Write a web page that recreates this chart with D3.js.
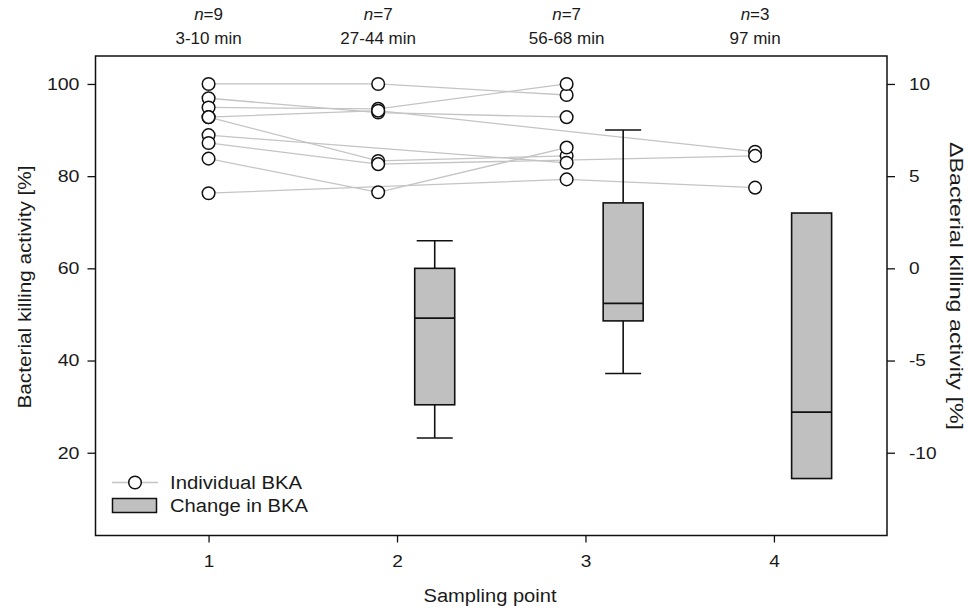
<!DOCTYPE html>
<html>
<head>
<meta charset="utf-8">
<script src="https://cdn.jsdelivr.net/npm/d3@7"></script>
<style>
  html, body { margin: 0; padding: 0; background: #fff; }
  svg { display: block; font-family: "Liberation Sans", Arial, sans-serif; }
</style>
</head>
<body>
<svg id="chart" width="968" height="611"></svg>
<script>
// ---------- data ----------
const samplingPoints = [1, 2, 3, 4];
const nLabels = ["9", "7", "7", "3"];
const timeLabels = ["3-10 min", "27-44 min", "56-68 min", "97 min"];
// Individual BKA per subject at sampling points 1..4 (null = missing)
const subject1 = [100.0, 100.0, 97.6, null];
const subject2 = [96.9, 93.8, 92.8, null];
const subject3 = [94.9, 94.6, 100.0, null];
const subject4 = [92.8, 94.2, null, 85.3];
const subject5 = [92.8, 83.3, 84.4, null];
const subject6 = [88.9, null, 82.9, null];
const subject7 = [87.2, 82.6, null, 84.4];
const subject8 = [83.8, 76.5, 86.2, null];
const subject9 = [76.3, null, 79.3, 77.5];
const subjects = [subject1, subject2, subject3, subject4, subject5, subject6, subject7, subject8, subject9];
// Change in BKA box plots (right axis), at sampling points 2..4
const boxPoints = [2, 3, 4];
const boxMin    = [-9.2, -5.7, null];
const boxQ1     = [-7.4, -2.85, -11.4];
const boxMedian = [-2.7, -1.9, -7.8];
const boxQ3     = [0.0, 3.55, 3.0];
const boxMax    = [1.5, 7.5, null];
const leftTicks = [20, 40, 60, 80, 100];
const rightTicks = [-10, -5, 0, 5, 10];

// ---------- layout ----------
const svg = d3.select("#chart");
const L = 95.5, R = 887, T = 56, B = 535.5;
const textColor = "#1a1a1a";
const FONT = '"Liberation Sans", Arial, sans-serif';

const x = d3.scaleLinear().domain([0.4, 4.6]).range([L, R]);
const yL = d3.scaleLinear().domain([2, 106]).range([535.7, 56.3]);
const yR = d3.scaleLinear().domain([-14.5, 11.5]).range([535.7, 56.3]);
const pointOffset = -0.1, boxOffset = 0.2;
const boxW = 40, capW = 36;

// widen glyphs horizontally (the reference text is rendered wide)
function stretch(sel, factor) {
  sel.each(function () {
    const n = this.getComputedTextLength();
    d3.select(this).attr("textLength", n * factor).attr("lengthAdjust", "spacingAndGlyphs");
  });
}

// subject lines
const line = d3.line()
  .defined(d => d.v !== null)
  .x(d => x(d.p))
  .y(d => yL(d.v));
subjects.forEach(s => {
  const pts = s.map((v, i) => ({p: samplingPoints[i] + (i === 0 ? 0 : pointOffset), v}))
               .filter(d => d.v !== null);
  svg.append("path").attr("d", line(pts))
    .attr("fill", "none").attr("stroke", "#c4c4c4").attr("stroke-width", 1.3);
});

// boxes
boxPoints.forEach((p, i) => {
  const cx = x(p + boxOffset);
  const g = svg.append("g");
  if (boxMax[i] !== null) {
    g.append("line").attr("x1", cx).attr("x2", cx).attr("y1", yR(boxQ3[i])).attr("y2", yR(boxMax[i]))
      .attr("stroke", "#111").attr("stroke-width", 1.6);
    g.append("line").attr("x1", cx - capW / 2).attr("x2", cx + capW / 2).attr("y1", yR(boxMax[i])).attr("y2", yR(boxMax[i]))
      .attr("stroke", "#111").attr("stroke-width", 1.6);
  }
  if (boxMin[i] !== null) {
    g.append("line").attr("x1", cx).attr("x2", cx).attr("y1", yR(boxQ1[i])).attr("y2", yR(boxMin[i]))
      .attr("stroke", "#111").attr("stroke-width", 1.6);
    g.append("line").attr("x1", cx - capW / 2).attr("x2", cx + capW / 2).attr("y1", yR(boxMin[i])).attr("y2", yR(boxMin[i]))
      .attr("stroke", "#111").attr("stroke-width", 1.6);
  }
  g.append("rect").attr("x", cx - boxW / 2).attr("width", boxW)
    .attr("y", yR(boxQ3[i])).attr("height", yR(boxQ1[i]) - yR(boxQ3[i]))
    .attr("fill", "#c0c0c0").attr("stroke", "#111").attr("stroke-width", 1.6);
  g.append("line").attr("x1", cx - boxW / 2).attr("x2", cx + boxW / 2)
    .attr("y1", yR(boxMedian[i])).attr("y2", yR(boxMedian[i]))
    .attr("stroke", "#111").attr("stroke-width", 1.6);
});

// points
subjects.forEach(s => {
  s.forEach((v, i) => {
    if (v === null) return;
    svg.append("circle")
      .attr("cx", x(samplingPoints[i] + (i === 0 ? 0 : pointOffset)))
      .attr("cy", yL(v)).attr("r", 6.3)
      .attr("fill", "#fff").attr("stroke", "#111").attr("stroke-width", 1.5);
  });
});

// frame
svg.append("rect").attr("x", L).attr("y", T).attr("width", R - L).attr("height", B - T)
  .attr("fill", "none").attr("stroke", "#111").attr("stroke-width", 1.5);

// axes
function styleAxis(g) {
  g.select(".domain").remove();
  g.selectAll(".tick line").attr("stroke", "#111").attr("stroke-width", 1.3);
  g.selectAll(".tick text").attr("fill", textColor).style("font-size", "17px")
    .style("font-family", FONT);
}
const gl = svg.append("g").attr("transform", `translate(${L},0)`)
  .call(d3.axisLeft(yL).tickValues(leftTicks).tickSize(8).tickPadding(8))
  .call(styleAxis);
stretch(gl.selectAll(".tick text"), 1.15);
const gr = svg.append("g").attr("transform", `translate(${R},0)`)
  .call(d3.axisRight(yR).tickValues(rightTicks).tickSize(8).tickPadding(14).tickFormat(d => String(d)))
  .call(styleAxis);
stretch(gr.selectAll(".tick text"), 1.12);
const gb = svg.append("g").attr("transform", `translate(0,${B})`)
  .call(d3.axisBottom(x).tickValues(samplingPoints).tickSize(7).tickPadding(12).tickFormat(d => String(d)))
  .call(styleAxis);
stretch(gb.selectAll(".tick text"), 1.12);

// axis titles
svg.append("text").attr("transform", `translate(24,287) rotate(-90)`)
  .attr("text-anchor", "middle").attr("dominant-baseline", "central")
  .attr("fill", textColor).style("font-size", "19px")
  .attr("textLength", 243).attr("lengthAdjust", "spacingAndGlyphs")
  .text("Bacterial killing activity [%]");
svg.append("text").attr("transform", `translate(956,286) rotate(90)`)
  .attr("text-anchor", "middle").attr("dominant-baseline", "central")
  .attr("fill", textColor).style("font-size", "18px")
  .attr("textLength", 288).attr("lengthAdjust", "spacingAndGlyphs")
  .text("\u0394Bacterial killing activity [%]");
svg.append("text").attr("x", 490).attr("y", 602)
  .attr("text-anchor", "middle").attr("fill", textColor).style("font-size", "18px")
  .attr("textLength", 133).attr("lengthAdjust", "spacingAndGlyphs")
  .text("Sampling point");

// top labels
samplingPoints.forEach((p, i) => {
  const cx = x(p + (i === 0 ? 0 : pointOffset));
  const t = svg.append("text").attr("x", cx).attr("y", 20).attr("text-anchor", "middle")
    .attr("fill", textColor).style("font-size", "17px");
  t.append("tspan").style("font-style", "italic").text("n");
  t.append("tspan").text("=" + nLabels[i]);
  svg.append("text").attr("x", cx).attr("y", 44).attr("text-anchor", "middle")
    .attr("fill", textColor).style("font-size", "17px").text(timeLabels[i]);
});

// legend
const lg = svg.append("g");
lg.append("line").attr("x1", 112).attr("x2", 158).attr("y1", 482.5).attr("y2", 482.5)
  .attr("stroke", "#c4c4c4").attr("stroke-width", 1.3);
lg.append("circle").attr("cx", 135).attr("cy", 482.5).attr("r", 6.3)
  .attr("fill", "#fff").attr("stroke", "#111").attr("stroke-width", 1.5);
lg.append("text").attr("x", 170).attr("y", 489).attr("fill", textColor)
  .style("font-size", "18px").attr("textLength", 132).attr("lengthAdjust", "spacingAndGlyphs")
  .text("Individual BKA");
lg.append("rect").attr("x", 112.5).attr("y", 498.5).attr("width", 44).attr("height", 14)
  .attr("fill", "#c0c0c0").attr("stroke", "#111").attr("stroke-width", 1.5);
lg.append("text").attr("x", 170).attr("y", 512).attr("fill", textColor)
  .style("font-size", "18px").attr("textLength", 138).attr("lengthAdjust", "spacingAndGlyphs")
  .text("Change in BKA");
</script>
</body>
</html>
